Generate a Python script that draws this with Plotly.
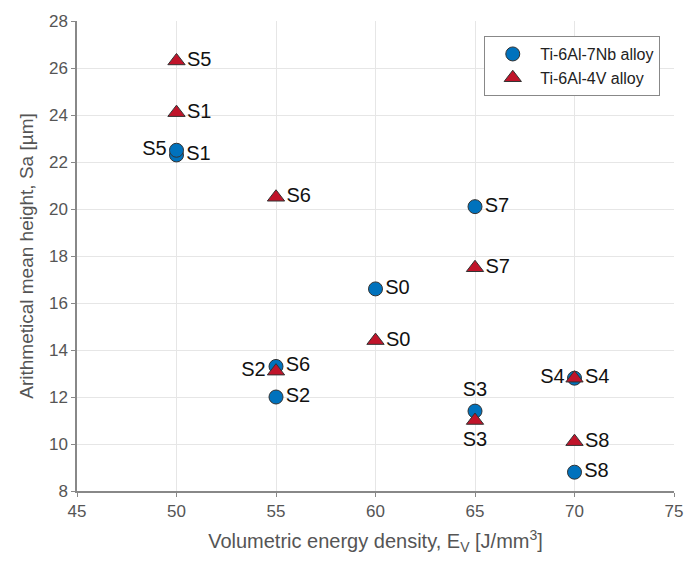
import plotly.graph_objects as go

labels = ["S0", "S1", "S2", "S3", "S4", "S5", "S6", "S7", "S8"]
ev = [60, 50, 55, 65, 70, 50, 55, 65, 70]
sa_nb = [16.6, 22.3, 12.0, 11.4, 12.8, 22.5, 13.3, 20.1, 8.8]
sa_v = [14.4, 24.1, 13.1, 11.0, 12.8, 26.3, 20.5, 17.5, 10.1]
pos_nb = ["middle right", "middle right", "middle right", "top center", "middle left",
          "middle left", "middle right", "middle right", "middle right"]
pos_v = ["middle right", "middle right", "middle left", "bottom center", "middle right",
         "middle right", "middle right", "middle right", "middle right"]

fig = go.Figure()
fig.add_trace(go.Scatter(
    x=ev, y=sa_nb, mode="markers+text", text=labels, textposition=pos_nb,
    name="Ti-6Al-7Nb alloy",
    marker=dict(symbol="circle", size=14, color="#0072BD", line=dict(color="#333333", width=1)),
    textfont=dict(family="Liberation Sans, Arial", size=20, color="#111111"),
))
fig.add_trace(go.Scatter(
    x=ev, y=sa_v, mode="markers+text", text=labels, textposition=pos_v,
    name="Ti-6Al-4V alloy",
    marker=dict(symbol="triangle-up", size=15, color="#C0142A", line=dict(color="#333333", width=1)),
    textfont=dict(family="Liberation Sans, Arial", size=20, color="#111111"),
))

axis_common = dict(
    showgrid=True, gridcolor="#e6e6e6", gridwidth=1,
    showline=True, linecolor="#888888", linewidth=1.5,
    ticks="outside", ticklen=4, tickcolor="#888888",
    tickfont=dict(family="Liberation Sans, Arial", size=17, color="#555555"),
    zeroline=False,
)
fig.update_layout(
    width=694, height=563,
    margin=dict(l=77, r=11, t=21, b=72),
    paper_bgcolor="white", plot_bgcolor="white",
    showlegend=True,
    legend=dict(x=0.977, y=0.968, xanchor="right", yanchor="top",
                bordercolor="#888888", borderwidth=1, bgcolor="white",
                itemwidth=45,
                font=dict(family="Liberation Sans, Arial", size=16, color="#222222")),
    xaxis=dict(range=[45, 75], dtick=5,
               title=dict(text="Volumetric energy density, E<sub>V</sub> [J/mm<sup>3</sup>]",
                          font=dict(family="Liberation Sans, Arial", size=20, color="#555555"),
                          standoff=14),
               **axis_common),
    yaxis=dict(range=[8, 28], dtick=2,
               title=dict(text="Arithmetical mean height, Sa [µm]",
                          font=dict(family="Liberation Sans, Arial", size=19, color="#555555"),
                          standoff=10),
               **axis_common),
)
fig.write_html("out.html")
